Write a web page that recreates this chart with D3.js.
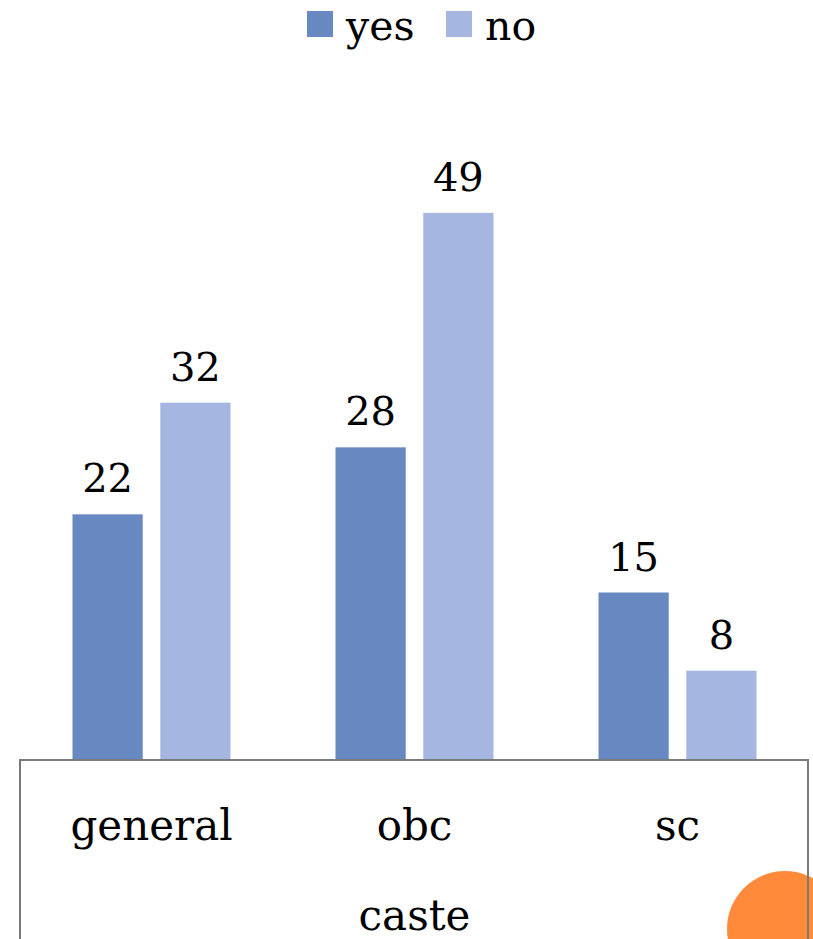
<!DOCTYPE html>
<html>
<head>
<meta charset="utf-8">
<script src="https://cdn.jsdelivr.net/npm/d3@7"></script>
<style>
  body { margin: 0; background: #fff; }
  svg { display: block; }
</style>
</head>
<body>
<svg id="graph" width="813" height="939"></svg>
<script>
(function() {
    var categories = ["general", "obc", "sc"];
    var series = ["yes", "no"];
    var yesValues = [22, 28, 15];
    var noValues = [32, 49, 8];
    var colors = ["#6788c0", "#a5b7e1"];

    var width = 813, height = 939;
    var font = "DejaVu Serif";
    var svg = d3.select("#graph");

    var data = categories.map((c, i) => ({ cat: c, yes: yesValues[i], no: noValues[i] }));

    var margin = { top: 90, right: 4, bottom: 179, left: 20 };
    var baseY = height - margin.bottom;

    var x = d3.scaleBand()
        .domain(categories)
        .range([margin.left, width - margin.right]);

    var x1 = d3.scaleBand()
        .domain(series)
        .range([x.bandwidth() / 2 - 79, x.bandwidth() / 2 + 79])
        .paddingInner(0.2);

    var y = d3.scaleLinear()
        .domain([0, 60])
        .range([baseY, margin.top]);

    var groups = svg.append("g")
        .selectAll("g")
        .data(data)
        .join("g")
        .attr("transform", d => `translate(${x(d.cat)},0)`);

    groups.selectAll("rect")
        .data(d => series.map(s => ({ key: s, value: d[s] })))
        .join("rect")
        .attr("x", d => x1(d.key))
        .attr("y", d => y(d.value))
        .attr("width", x1.bandwidth())
        .attr("height", d => y(0) - y(d.value))
        .attr("fill", (d, i) => colors[i]);

    groups.selectAll("text")
        .data(d => series.map(s => ({ key: s, value: d[s] })))
        .join("text")
        .attr("x", d => x1(d.key) + x1.bandwidth() / 2)
        .attr("y", d => y(d.value) - 22)
        .attr("text-anchor", "middle")
        .attr("font-family", font)
        .attr("font-size", 40)
        .attr("fill", "#000")
        .text(d => d.value);

    // orange corner decoration (sits under the box border)
    svg.append("circle")
        .attr("cx", 785)
        .attr("cy", 929)
        .attr("r", 58)
        .attr("fill", "#ff8a3a");

    // category box below the bars
    svg.append("path")
        .attr("d", `M${x.range()[0]},${height + 2}V${baseY}H${x.range()[1] - 1}V${height + 2}`)
        .attr("fill", "none")
        .attr("stroke", "#7a7a7a")
        .attr("stroke-width", 2);

    var xAxis = g => g
        .attr("transform", `translate(0,${baseY})`)
        .call(d3.axisBottom(x).tickSize(0).tickPadding(80))
        .call(g => g.select(".domain").remove())
        .call(g => g.selectAll("text")
            .attr("dy", 0)
            .attr("font-family", font)
            .attr("font-size", 42)
            .attr("fill", "#000"));

    svg.append("g").call(xAxis);

    svg.append("text")
        .attr("x", (x.range()[0] + x.range()[1]) / 2)
        .attr("y", 930)
        .attr("text-anchor", "middle")
        .attr("font-family", font)
        .attr("font-size", 42)
        .text("caste");

    // legend
    var legendX = [307, 446];
    var legend = svg.append("g")
        .selectAll("g")
        .data(series)
        .join("g")
        .attr("transform", (d, i) => `translate(${legendX[i]},11)`);

    legend.append("rect")
        .attr("width", 26)
        .attr("height", 26)
        .attr("fill", (d, i) => colors[i]);

    legend.append("text")
        .attr("x", 39)
        .attr("y", 29)
        .attr("font-family", font)
        .attr("font-size", 41)
        .text(d => d);
})();
</script>
</body>
</html>
